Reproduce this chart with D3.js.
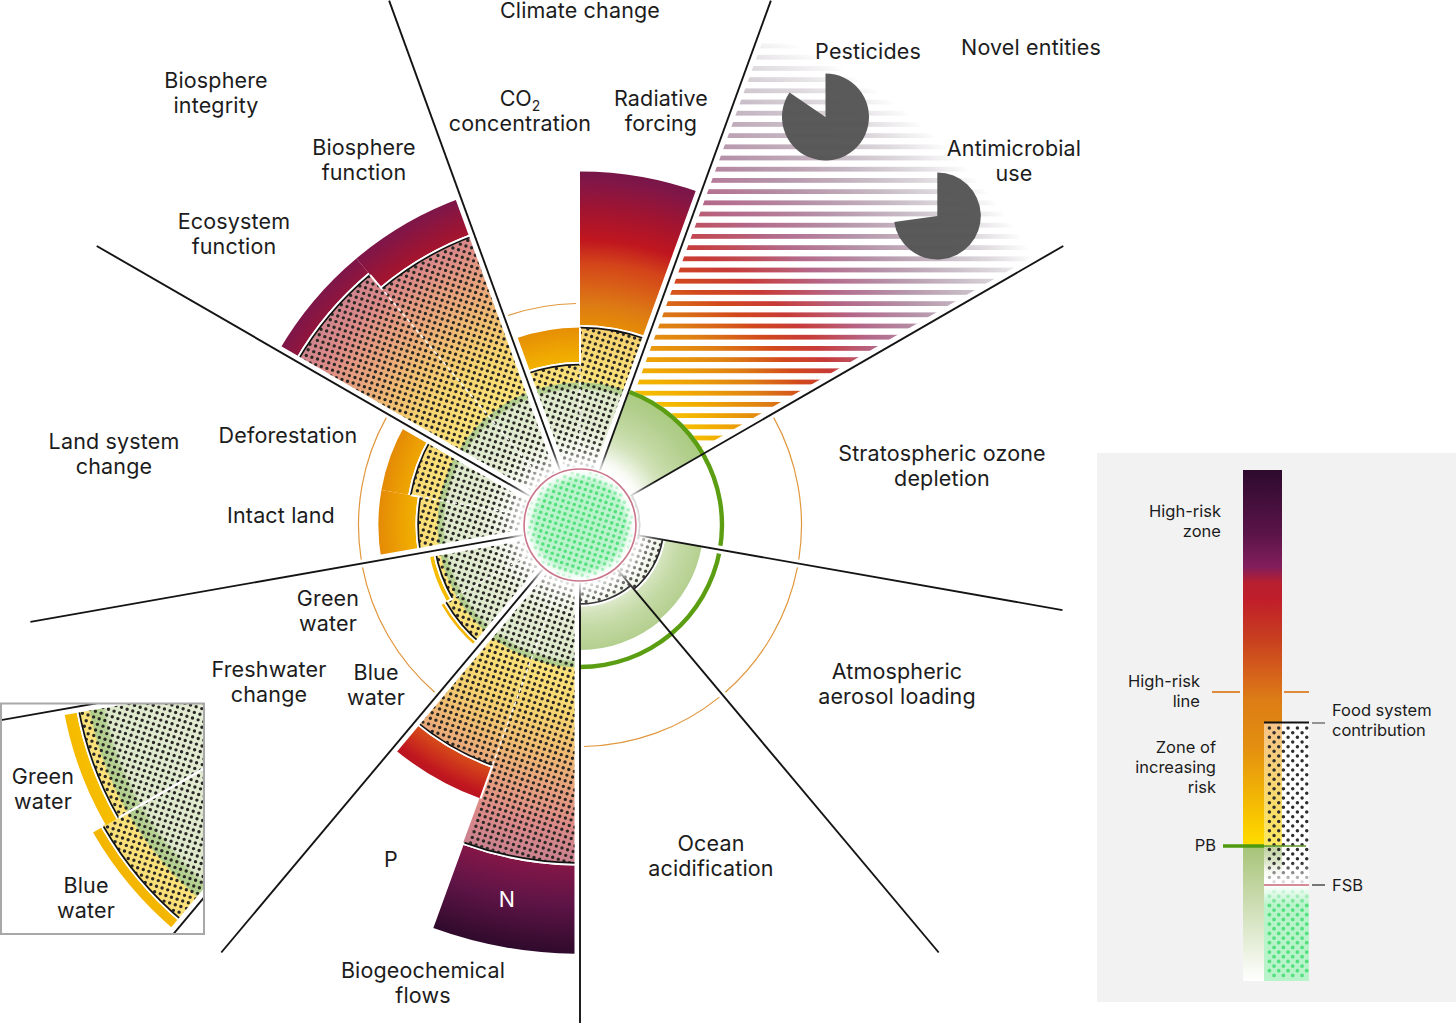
<!DOCTYPE html>
<html>
<head>
<meta charset="utf-8">
<script src="https://cdn.jsdelivr.net/npm/d3@7"></script>
<style>
  html, body { margin: 0; padding: 0; background: #fff; }
  svg { display: block; }
  text { font-family: Inter, "Open Sans", sans-serif; fill: #1c1c1c; }
</style>
</head>
<body>
<div id="chart"></div>
<script>
// sub-boundaries, clockwise from the climate sector
const segments = ['CO2 concentration', 'Radiative forcing', 'Novel a', 'Novel b', 'Ozone a', 'Ozone b',
  'Aerosol a', 'Aerosol b', 'Ocean a', 'Ocean b', 'N', 'P', 'Blue water', 'Green water',
  'Intact land', 'Deforestation', 'Ecosystem function', 'Biosphere function'];
// values are in planetary boundary units (PB = 1)
const foodValues = [1.13, 1.39, 0, 0, 0.42, 0.42, 0.59, 0.59, 0.556, 0.556, 2.38, 1.80, 1.088, 1.035, 1.14, 1.21, 2.30, 2.17];
const totalValues = [1.39, 2.49, 1, 1, 0, 0, 0.87, 0.87, 0.88, 0.88, 3.02, 2.05, 1.125, 1.08, 1.42, 1.42, 2.45, 2.45];
const fsbValue = 0.394;
const pbValue = 1;
const highRiskValue = 1.56;
// spoke lengths, clockwise from the one at the left of climate
const spokeValues = [3.93, 3.93, 3.93, 3.45, 3.93, 3.93, 3.93, 3.93, 3.93];
const novelFadeValue = 3.7;
const pesticideShare = [84.5, 15.5];
const antimicrobialShare = [72.8, 27.2];
// sectors that show the high-risk line, as segment index pairs
const highRiskSpans = [[0, 0], [4, 5], [6, 7], [8, 9], [12, 13], [14, 15]];
const pbRingSpan = [2, 9];

const width = 1456, height = 1023;
const cx = 580, cy = 525;
const insetScale = 2.32;

const svg = d3.select('#chart').append('svg').attr('width', width).attr('height', height);
const defs = svg.append('defs');

const deg = d => d * Math.PI / 180;
const angle = d3.scaleBand().domain(segments).range([-20, 340]);
const radius = d3.scaleLinear().domain([0, 1]).range([0, 142]);
const arc = d3.arc();

function radial(id, rs, colors, k, opacities) {
  const g = defs.append('radialGradient').attr('id', id)
    .attr('gradientUnits', 'userSpaceOnUse')
    .attr('cx', 0).attr('cy', 0).attr('r', d3.max(rs) * k);
  rs.forEach((r, i) => {
    const s = g.append('stop').attr('offset', r / d3.max(rs)).attr('stop-color', colors[i]);
    if (opacities) s.attr('stop-opacity', opacities[i]);
  });
}

function linear(id, y0, y1, ys, colors, opacities) {
  const g = defs.append('linearGradient').attr('id', id)
    .attr('gradientUnits', 'userSpaceOnUse')
    .attr('x1', 0).attr('x2', 0).attr('y1', y0).attr('y2', y1);
  ys.forEach((y, i) => {
    const s = g.append('stop').attr('offset', (y - y0) / (y1 - y0)).attr('stop-color', colors[i]);
    if (opacities) s.attr('stop-opacity', opacities[i]);
  });
}

const riskR = [56, 80, 100, 125, 142, 142.1, 165, 200, 221, 262, 285, 315, 345, 380, 429];
const riskC = ['#ffffff', '#dce9c9', '#c6dba8', '#b3cf8e', '#a9cb7f', '#f8c400', '#f2b000', '#e58c06', '#dd7a14', '#d4441a', '#c0161f', '#a11430', '#801648', '#5e1446', '#2f0a2c'];
const paleR = [56, 100, 135, 137, 142, 143, 190, 225, 260, 300, 345, 430];
const paleC = ['#ffffff', '#e2ebd2', '#dde8cb', '#b7d196', '#b0cd8a', '#fbe27a', '#f6d470', '#f0bd72', '#e8a47c', '#dc8a88', '#c68090', '#c08090'];
const stripeR = [142, 165, 221, 262, 295, 345, 395, 450, 490, 528];
const stripeC = ['#f5c000', '#f2ae00', '#de7f14', '#d2481c', '#c83a38', '#b4688a', '#b592a8', '#c8bcc6', '#dfdbdf', '#ffffff'];

radial('risk', riskR, riskC, 1);
radial('pale', paleR, paleC, 1);
radial('stripe', stripeR, stripeC, 1);
radial('riskInset', riskR, riskC, insetScale);
radial('paleInset', paleR, paleC, insetScale);
radial('centreFade', [56, 64, 74, 88], ['#fff', '#fff', '#fff', '#fff'], 1, [0.95, 0.7, 0.25, 0]);
radial('fsbFill', [0, 46, 52, 56], ['#b6f3c8', '#bdf4ce', '#e0fae8', '#ffffff'], 1);
radial('fsbEdge', [0, 44, 55], ['#fff', '#fff', '#fff'], 1, [0, 0, 0.9]);

// halftone: a rotated lattice of points inside a box
function lattice(x0, x1, y0, y1, step, rotate) {
  const c = Math.cos(deg(rotate)), s = Math.sin(deg(rotate));
  const n = Math.ceil(Math.hypot(Math.max(Math.abs(x0), Math.abs(x1)), Math.max(Math.abs(y0), Math.abs(y1))) / step) + 1;
  const points = [];
  for (let i = -n; i <= n; i++) {
    for (let j = -n; j <= n; j++) {
      const x = (i * c - j * s) * step, y = (i * s + j * c) * step;
      if (x >= x0 && x <= x1 && y >= y0 && y <= y1) points.push([x, y]);
    }
  }
  return points;
}
const dotPath = (points, r) => points.map(([x, y]) =>
  `M${(x - r).toFixed(2)},${y.toFixed(2)}a${r},${r} 0 1,0 ${2 * r},0a${r},${r} 0 1,0 ${-2 * r},0`).join('');
const polar = ([x, y]) => {
  let a = Math.atan2(x, -y) * 180 / Math.PI;
  if (a < -20) a += 360;
  return {r: Math.hypot(x, y), a};
};
const roseDots = lattice(-450, 450, -450, 450, 5.9, 18);
const insetDots = lattice(-425, -200, 50, 295, 5.9, 18);

const arcPath = (r0, r1, a0, a1) => arc({innerRadius: r0, outerRadius: r1, startAngle: deg(a0), endAngle: deg(a1)});

// a whole sector, shrunk by a constant distance along both of its spokes
function sectorPath(name, offset, r1) {
  const a0 = angle(name);
  return d3.arc().padRadius(100).padAngle(2 * Math.asin(offset / 100))({
    innerRadius: 20, outerRadius: r1,
    startAngle: deg(a0), endAngle: deg(a0 + 2 * angle.bandwidth())
  });
}

function drawSegments(g, names, k, riskId, paleId, points) {
  const start = s => angle(s);
  const end = s => angle(s) + angle.bandwidth();
  const rows = names.map(s => {
    const i = segments.indexOf(s);
    return {name: s, food: radius(foodValues[i]) * k, total: radius(totalValues[i]) * k};
  });
  // dotted food system wedge
  const food = rows.filter(d => d.food > 0);
  g.selectAll(null).data(food).join('path')
    .attr('d', d => arcPath(0, d.food, start(d.name), end(d.name) + 0.2))
    .attr('fill', `url(#${paleId})`);
  g.selectAll(null).data(food).join('path')
    .attr('d', d => dotPath(points.filter(p => {
      const q = polar(p);
      return q.r < d.food && q.a >= start(d.name) && q.a < end(d.name);
    }), 1.7))
    .attr('fill', '#2a2825');
  // solid bar beyond it, green ones overlap a little to hide the seam
  g.selectAll(null).data(rows.filter(d => d.total > d.food)).join('path')
    .attr('d', d => arcPath(d.food ? d.food + 2.6 : 56, d.total, start(d.name), end(d.name) + (d.total <= radius(pbValue) * k ? 0.25 : 0)))
    .attr('fill', `url(#${riskId})`);
  // white then black edge of the food wedge
  g.selectAll(null).data(food).join('path')
    .attr('d', d => arcPath(d.food - 0.5, d.food + 2.6, start(d.name), end(d.name)))
    .attr('fill', '#fff');
  g.selectAll(null).data(food).join('path')
    .attr('d', d => arcPath(d.food - 0.85, d.food + 0.85, start(d.name), end(d.name)))
    .attr('fill', '#111');
}

// main rose, one clipped group per sector
const rose = svg.append('g').attr('transform', `translate(${cx},${cy})`);
const sectorOffsets = [5.5, 0, 0, 0, 0, 5.5, 5.5, 5.5, 5.5];
d3.range(0, segments.length, 2).forEach((i, n) => {
  defs.append('clipPath').attr('id', 'sector' + n).append('path').attr('d', sectorPath(segments[i], sectorOffsets[n], 500));
  const g = rose.append('g').attr('clip-path', `url(#sector${n})`);
  drawSegments(g, [segments[i], segments[i + 1]], 1, 'risk', 'pale', roseDots);
});

// novel entities stripes, fade out towards the rim
const stripeClip = defs.append('clipPath').attr('id', 'stripeClip');
stripeClip.append('path')
  .attr('d', d3.arc().padAngle(0.12).padRadius(100)({innerRadius: radius(pbValue) + 2, outerRadius: radius(novelFadeValue),
    startAngle: deg(angle('Novel a')), endAngle: deg(angle('Novel b') + angle.bandwidth())}));
const stripeRows = d3.range(-479, -70, 11.2);
rose.append('g').attr('clip-path', 'url(#stripeClip)')
  .selectAll('rect').data(stripeRows).join('rect')
  .attr('x', 0).attr('y', d => d - 2.4)
  .attr('width', 530).attr('height', 4.8)
  .attr('fill', 'url(#stripe)');

// dashed divider inside each pair, plus the white step where the two wedges differ
const pairs = [[0, 1], [10, 11], [12, 13], [14, 15], [16, 17]];
pairs.forEach(([a, b]) => {
  const at = angle(segments[b]);
  const low = foodValues[a] < foodValues[b] ? a : b;
  const high = low === a ? b : a;
  const sin = Math.sin(deg(at)), cos = -Math.cos(deg(at));
  const rLow = radius(foodValues[low]);
  const rHigh = Math.min(radius(foodValues[high]), radius(totalValues[low]));
  rose.append('line')
    .attr('x1', 62 * sin).attr('y1', 62 * cos).attr('x2', rLow * sin).attr('y2', rLow * cos)
    .attr('stroke', '#fff').attr('stroke-width', 1.3).attr('stroke-dasharray', '4 3');
  rose.append('line')
    .attr('x1', rLow * sin).attr('y1', rLow * cos).attr('x2', rHigh * sin).attr('y2', rHigh * cos)
    .attr('stroke', '#fff').attr('stroke-width', 2);
});

// high-risk arcs
rose.selectAll('.hr').data(highRiskSpans).join('path')
  .attr('class', 'hr')
  .attr('d', d => {
    const r = radius(highRiskValue);
    return arcPath(r - 0.6, r + 0.6, angle(segments[d[0]]) + 1, angle(segments[d[1]]) + angle.bandwidth() - 1);
  })
  .attr('fill', '#e0983f');

// PB ring
rose.append('path')
  .attr('d', arcPath(radius(pbValue) - 2.2, radius(pbValue) + 2.2, angle(segments[pbRingSpan[0]]) + 0.5, angle(segments[pbRingSpan[1]]) + angle.bandwidth()))
  .attr('fill', '#5b9e12');
// small gap of the ring at the ozone/aerosol spoke
rose.append('path')
  .attr('d', arcPath(radius(pbValue) - 3, radius(pbValue) + 3, angle('Aerosol a') - 1.6, angle('Aerosol a') + 1.6))
  .attr('fill', '#fff');

// spokes
const spokes = d3.range(0, segments.length, 2).map((i, n) => ({at: angle(segments[i]), len: radius(spokeValues[n])}));
rose.selectAll('.spoke').data(spokes).join('line')
  .attr('class', 'spoke')
  .attr('x1', d => 58 * Math.sin(deg(d.at))).attr('y1', d => -58 * Math.cos(deg(d.at)))
  .attr('x2', d => d.len * Math.sin(deg(d.at))).attr('y2', d => -d.len * Math.cos(deg(d.at)))
  .attr('stroke', '#141414').attr('stroke-width', 1.9);

// centre
rose.append('circle').attr('r', 90).attr('fill', 'url(#centreFade)');
rose.append('circle').attr('r', radius(fsbValue)).attr('fill', 'url(#fsbFill)');
rose.append('path').attr('d', dotPath(lattice(-55, 55, -55, 55, 5.9, 18).filter(p => polar(p).r < 54), 1.8)).attr('fill', '#55e080');
rose.append('circle').attr('r', 55).attr('fill', 'url(#fsbEdge)');
rose.append('circle').attr('r', radius(fsbValue)).attr('fill', 'none').attr('stroke', '#fff').attr('stroke-width', 4);
rose.append('circle').attr('r', radius(fsbValue)).attr('fill', 'none').attr('stroke', '#c9778a').attr('stroke-width', 1.6);

// pies
const pie = d3.pie().sort(null).startAngle(0).endAngle(2 * Math.PI);
const pieArc = d3.arc().innerRadius(0).outerRadius(43.5);
[[pesticideShare, 825.5, 117], [antimicrobialShare, 937.3, 216]].forEach(([vals, x, y]) => {
  svg.append('g').attr('transform', `translate(${x},${y})`)
    .selectAll('path').data(pie(vals).slice(0, 1)).join('path')
    .attr('d', pieArc).attr('fill', '#555555').attr('fill-opacity', 0.97);
});

// inset
const insetClip = defs.append('clipPath').attr('id', 'insetClip');
insetClip.append('rect').attr('x', 1).attr('y', 704).attr('width', 203).attr('height', 230);
const inset = svg.append('g').attr('clip-path', 'url(#insetClip)');
inset.append('rect').attr('x', 1).attr('y', 704).attr('width', 203).attr('height', 230).attr('fill', '#fff');
const insetRose = inset.append('g').attr('transform', 'translate(414,647.3)');
defs.append('clipPath').attr('id', 'insetSector').append('path').attr('d', sectorPath('Blue water', 6, 900));
drawSegments(insetRose.append('g').attr('clip-path', 'url(#insetSector)'), ['Blue water', 'Green water'], insetScale, 'riskInset', 'paleInset', insetDots);
const insetAt = angle('Green water');
const insetDivider = radius(foodValues[segments.indexOf('Green water')]) * insetScale;
insetRose.append('line')
  .attr('x1', 0).attr('y1', 0)
  .attr('x2', insetDivider * Math.sin(deg(insetAt))).attr('y2', -insetDivider * Math.cos(deg(insetAt)))
  .attr('stroke', '#fff').attr('stroke-width', 2.4);
insetRose.selectAll('.spoke').data([angle('Blue water'), angle('Intact land')]).join('line')
  .attr('class', 'spoke')
  .attr('x1', d => 200 * Math.sin(deg(d))).attr('y1', d => -200 * Math.cos(deg(d)))
  .attr('x2', d => 600 * Math.sin(deg(d))).attr('y2', d => -600 * Math.cos(deg(d)))
  .attr('stroke', '#141414').attr('stroke-width', 1.9);
svg.append('rect').attr('x', 1).attr('y', 703.5).attr('width', 203).attr('height', 230.5)
  .attr('fill', 'none').attr('stroke', '#a8a8a8').attr('stroke-width', 2);

// legend panel
const legend = svg.append('g');
legend.append('rect').attr('x', 1097).attr('y', 453).attr('width', 359).attr('height', 549).attr('fill', '#f2f2f2');
linear('legendBar', 470, 981,
  [470, 533, 567, 583, 600, 640, 680, 700, 747, 820, 845, 846, 850, 981],
  ['#2d0a2e', '#5a1448', '#821e5c', '#b81f2f', '#c01e2a', '#c8401f', '#d8681a', '#dc7d15', '#e38f10', '#f9c800', '#ffdc00', '#a9c57c', '#a9c57c', '#ffffff']);
linear('legendPale', 723, 885,
  [723, 845, 846, 880],
  ['#f6c488', '#fbe85e', '#bcd09c', '#ffffff']);
linear('legendFade', 862, 885, [862, 885], ['#fff', '#fff'], [0, 0.95]);
linear('legendGreenFade', 886, 905, [886, 905], ['#fff', '#fff'], [0.95, 0]);

legend.append('rect').attr('x', 1243).attr('y', 470).attr('width', 39).attr('height', 253).attr('fill', 'url(#legendBar)');
legend.append('rect').attr('x', 1243).attr('y', 723).attr('width', 21).attr('height', 258).attr('fill', 'url(#legendBar)');
legend.append('rect').attr('x', 1264).attr('y', 723).attr('width', 45).attr('height', 162).attr('fill', '#fff');
legend.append('rect').attr('x', 1264).attr('y', 723).attr('width', 18).attr('height', 162).attr('fill', 'url(#legendPale)');
legend.append('path').attr('d', dotPath(lattice(1266, 1307, 725, 885, 6.6, 45), 1.75)).attr('fill', '#2e2e2e');
legend.append('rect').attr('x', 1264).attr('y', 862).attr('width', 45).attr('height', 23).attr('fill', 'url(#legendFade)');
legend.append('rect').attr('x', 1264).attr('y', 886).attr('width', 45).attr('height', 95).attr('fill', '#b9f3ca');
legend.append('path').attr('d', dotPath(lattice(1266, 1307, 887, 980, 6.6, 45), 1.9)).attr('fill', '#55e080');
legend.append('rect').attr('x', 1264).attr('y', 886).attr('width', 45).attr('height', 19).attr('fill', 'url(#legendGreenFade)');

const legendLines = [
  [1212, 1240, 692, '#e08a3c', 2],
  [1284, 1309, 692, '#e08a3c', 2],
  [1264, 1309, 722.5, '#111', 2],
  [1264, 1309, 885, '#d68c98', 2],
  [1223, 1264, 846, '#4f9a0e', 3.6],
  [1264, 1306, 846, '#5c9a24', 1.6],
  [1312, 1325, 723, '#555', 1.2],
  [1312, 1325, 885, '#222', 1.2]
];
legend.selectAll('line').data(legendLines).join('line')
  .attr('x1', d => d[0]).attr('x2', d => d[1]).attr('y1', d => d[2]).attr('y2', d => d[2])
  .attr('stroke', d => d[3]).attr('stroke-width', d => d[4]);

// text
function label(lines, x, y, opt) {
  opt = opt || {};
  const size = opt.size || 21.5;
  const step = opt.step || 25;
  const t = svg.append('text')
    .attr('text-anchor', opt.anchor || 'middle')
    .attr('font-size', size)
    .attr('letter-spacing', opt.spacing === undefined ? 0.15 : opt.spacing);
  if (opt.fill) t.style('fill', opt.fill);
  lines.forEach((l, i) => {
    t.append('tspan').attr('x', x).attr('y', y + i * step).attr('dy', opt.dy || '0.33em').text(l);
  });
  return t;
}

label(['Climate change'], 580, 11);
label(['Biosphere', 'integrity'], 216, 81);
label(['Biosphere', 'function'], 364, 148);
label(['Ecosystem', 'function'], 234, 222);
label(['concentration'], 520, 124);
const co2Top = svg.append('text').attr('text-anchor', 'middle').attr('font-size', 21.5).attr('y', 99).attr('x', 520).attr('dy', '0.33em');
co2Top.append('tspan').text('CO');
co2Top.append('tspan').attr('font-size', 14).attr('dy', 5).text('2');
label(['Radiative', 'forcing'], 661, 99);
label(['Pesticides'], 868, 52);
label(['Novel entities'], 1031, 48);
label(['Antimicrobial', 'use'], 1014, 149);
label(['Stratospheric ozone', 'depletion'], 942, 454);
label(['Atmospheric', 'aerosol loading'], 897, 672);
label(['Ocean', 'acidification'], 711, 844);
label(['Biogeochemical', 'flows'], 423, 971);
label(['P'], 391, 860);
label(['N'], 507, 900, {fill: '#fff'});
label(['Freshwater', 'change'], 269, 670);
label(['Blue', 'water'], 376, 673);
label(['Green', 'water'], 328, 599);
label(['Land system', 'change'], 114, 442);
label(['Deforestation'], 288, 436);
label(['Intact land'], 281, 516);
label(['Green', 'water'], 43, 777);
label(['Blue', 'water'], 86, 886);

const small = {size: 16.5, step: 20, spacing: 0, dy: '0.38em'};
label(['High-risk', 'zone'], 1221, 511, {...small, anchor: 'end'});
label(['High-risk', 'line'], 1200, 681, {...small, anchor: 'end'});
label(['Zone of', 'increasing', 'risk'], 1216, 747, {...small, anchor: 'end'});
label(['PB'], 1216, 845, {...small, anchor: 'end'});
label(['Food system', 'contribution'], 1332, 710, {...small, anchor: 'start'});
label(['FSB'], 1332, 885, {...small, anchor: 'start'});
</script>
</body>
</html>
